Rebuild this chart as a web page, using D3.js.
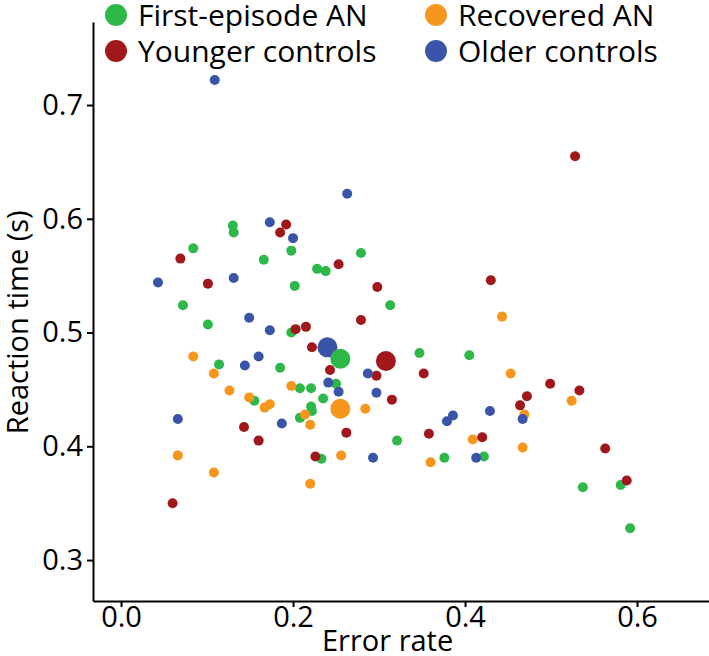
<!DOCTYPE html>
<html lang="en">
  <head>
    <meta charset="UTF-8" />
    <title>Reaction time vs error rate</title>
    <style>
      body {
        margin: 0;
        background: #fff;
        font-family: "Open Sans", sans-serif;
      }
      .axis path,
      .axis line {
        stroke: #000;
        stroke-width: 2;
      }
      .axis text {
        font-family: "Open Sans", sans-serif;
        font-size: 29px;
        fill: #000;
      }
    </style>
  </head>
  <body>
    <div id="chart"></div>

    <script src="https://d3js.org/d3.v7.min.js"></script>
    <script>
      // group names and colours
      const groups = ["First-episode AN", "Recovered AN", "Younger controls", "Older controls"];
      const colors = ["#2fb84a", "#f7961d", "#a0181b", "#3a55a8"];

      // [error rate, reaction time] per participant
      const firstEpisode = [
        [0.130, 0.594], [0.131, 0.588], [0.084, 0.574], [0.198, 0.572], [0.166, 0.564],
        [0.228, 0.556], [0.238, 0.554], [0.202, 0.541], [0.072, 0.524], [0.313, 0.524],
        [0.279, 0.570], [0.101, 0.507], [0.198, 0.500], [0.114, 0.472], [0.185, 0.469],
        [0.208, 0.451], [0.221, 0.451], [0.250, 0.455], [0.155, 0.440], [0.235, 0.442],
        [0.221, 0.435], [0.222, 0.431], [0.208, 0.425], [0.233, 0.389], [0.321, 0.405],
        [0.347, 0.482], [0.405, 0.480], [0.376, 0.390], [0.422, 0.391], [0.537, 0.364],
        [0.581, 0.366], [0.592, 0.328]
      ];
      const recovered = [
        [0.084, 0.479], [0.108, 0.464], [0.126, 0.449], [0.149, 0.443], [0.173, 0.437],
        [0.167, 0.434], [0.198, 0.453], [0.214, 0.428], [0.220, 0.419], [0.066, 0.392],
        [0.108, 0.377], [0.220, 0.367], [0.256, 0.392], [0.284, 0.433], [0.453, 0.464],
        [0.443, 0.514], [0.524, 0.440], [0.469, 0.428], [0.409, 0.406], [0.467, 0.399],
        [0.360, 0.386]
      ];
      const youngerControls = [
        [0.192, 0.595], [0.185, 0.588], [0.069, 0.565], [0.253, 0.560], [0.101, 0.543],
        [0.298, 0.540], [0.203, 0.503], [0.215, 0.505], [0.279, 0.511], [0.430, 0.546],
        [0.528, 0.655], [0.222, 0.487], [0.243, 0.467], [0.297, 0.462], [0.352, 0.464],
        [0.315, 0.441], [0.499, 0.455], [0.533, 0.449], [0.472, 0.444], [0.464, 0.436],
        [0.143, 0.417], [0.160, 0.405], [0.262, 0.412], [0.358, 0.411], [0.420, 0.408],
        [0.226, 0.391], [0.563, 0.398], [0.588, 0.370], [0.060, 0.350]
      ];
      const olderControls = [
        [0.109, 0.722], [0.263, 0.622], [0.173, 0.597], [0.200, 0.583], [0.043, 0.544],
        [0.131, 0.548], [0.149, 0.513], [0.173, 0.502], [0.160, 0.479], [0.144, 0.471],
        [0.241, 0.456], [0.253, 0.448], [0.287, 0.464], [0.297, 0.447], [0.066, 0.424],
        [0.187, 0.420], [0.293, 0.390], [0.429, 0.431], [0.386, 0.427], [0.379, 0.422],
        [0.467, 0.424], [0.413, 0.390]
      ];
      // group means (big dots): error rate, reaction time, group index
      const groupMeans = [
        [0.240, 0.487, 3],
        [0.308, 0.475, 2],
        [0.255, 0.477, 0],
        [0.255, 0.433, 1]
      ];

      const xTicks = [0.0, 0.2, 0.4, 0.6];
      const yTicks = [0.3, 0.4, 0.5, 0.6, 0.7];

      const width = 709,
        height = 656;
      const margin = { top: 22, right: 0, bottom: 55, left: 93 };
      const w = width - margin.left - margin.right;
      const h = height - margin.top - margin.bottom;

      const svg = d3
        .select("#chart")
        .append("svg")
        .attr("width", width)
        .attr("height", height);

      const g = svg
        .append("g")
        .attr("transform", `translate(${margin.left},${margin.top})`);

      const x = d3.scaleLinear().domain([-0.0326, 0.6837]).range([0, w]);
      const y = d3.scaleLinear().domain([0.264, 0.773]).range([h, 0]);

      // axes
      g.append("g")
        .attr("class", "axis")
        .attr("transform", `translate(0,${h})`)
        .call(
          d3.axisBottom(x).tickValues(xTicks).tickFormat(d3.format(".1f")).tickSize(6).tickSizeOuter(0)
        )
        .call((a) => a.selectAll("text").attr("y", 5).attr("dy", "0.71em"));

      g.append("g")
        .attr("class", "axis")
        .call(
          d3.axisLeft(y).tickValues(yTicks).tickFormat(d3.format(".1f")).tickSize(6).tickSizeOuter(0)
        )
        .call((a) => a.selectAll("text").attr("x", -10));

      // axis titles
      svg
        .append("text")
        .attr("x", margin.left + x(0.31))
        .attr("y", 651)
        .attr("text-anchor", "middle")
        .style("font-size", "29px")
        .text("Error rate");

      svg
        .append("text")
        .attr("transform", `translate(28,${margin.top + y(0.509)}) rotate(-90)`)
        .attr("text-anchor", "middle")
        .style("font-size", "29px")
        .text("Reaction time (s)");

      // individual points
      const sets = [firstEpisode, recovered, youngerControls, olderControls];
      sets.forEach((pts, i) => {
        g.selectAll(".pt" + i)
          .data(pts)
          .enter()
          .append("circle")
          .attr("class", "pt" + i)
          .attr("cx", (d) => x(d[0]))
          .attr("cy", (d) => y(d[1]))
          .attr("r", 5)
          .style("fill", colors[i]);
      });

      // means
      g.selectAll(".mean")
        .data(groupMeans)
        .enter()
        .append("circle")
        .attr("class", "mean")
        .attr("cx", (d) => x(d[0]))
        .attr("cy", (d) => y(d[1]))
        .attr("r", 10)
        .style("fill", (d) => colors[d[2]]);

      // legend
      const legendPos = [
        [116, 15],
        [436, 15],
        [116, 51],
        [436, 51]
      ];
      const legend = svg
        .selectAll(".legend")
        .data(groups)
        .enter()
        .append("g")
        .attr("class", "legend")
        .attr("transform", (d, i) => `translate(${legendPos[i][0]},${legendPos[i][1]})`);

      legend
        .append("circle")
        .attr("r", 11)
        .style("fill", (d, i) => colors[i]);

      legend
        .append("text")
        .attr("x", 22)
        .attr("dy", "0.35em")
        .style("font-size", "30px")
        .text((d) => d);
    </script>
  </body>
</html>
